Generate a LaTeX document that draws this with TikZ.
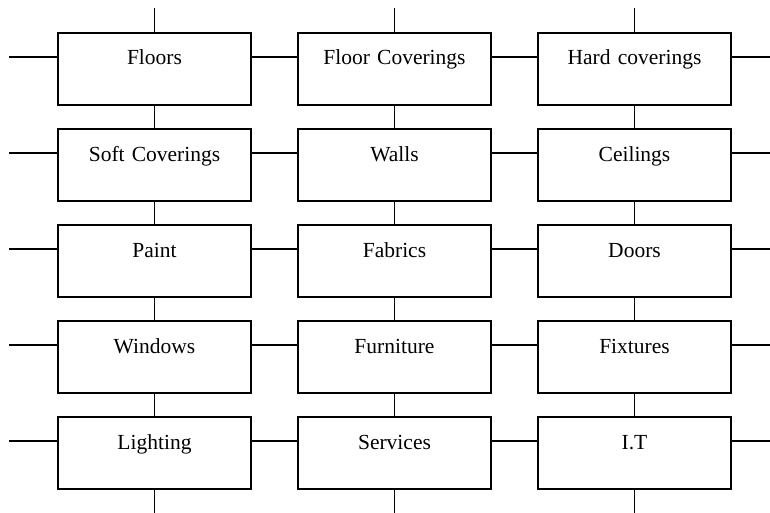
\documentclass[tikz,border=0pt]{standalone}
\usepackage{fontspec}
\setmainfont{Liberation Serif}
\begin{document}
\begin{tikzpicture}[x=1pt,y=-1pt,
    item/.style={draw, line width=1.8pt, rectangle, inner sep=0pt,
        text width=193pt, align=center, text height=32pt, text depth=40pt,
        font=\fontsize{21.5}{25}\selectfont},
    link/.style={line width=1.8pt}]
    \useasboundingbox (0,0) rectangle (770,513);

    % Boxes
    \node[item] (floors)    at (154.5,69)  {Floors};
    \node[item] (floorcov)  at (394.5,69)  {Floor Coverings};
    \node[item] (hardcov)   at (634.5,69)  {Hard coverings};
    \node[item] (softcov)   at (154.5,165) {Soft Coverings};
    \node[item] (walls)     at (394.5,165) {Walls};
    \node[item] (ceilings)  at (634.5,165) {Ceilings};
    \node[item] (paint)     at (154.5,261) {Paint};
    \node[item] (fabrics)   at (394.5,261) {Fabrics};
    \node[item] (doors)     at (634.5,261) {Doors};
    \node[item] (windows)   at (154.5,357) {Windows};
    \node[item] (furniture) at (394.5,357) {Furniture};
    \node[item] (fixtures)  at (634.5,357) {Fixtures};
    \node[item] (lighting)  at (154.5,453) {Lighting};
    \node[item] (services)  at (394.5,453) {Services};
    \node[item] (it)        at (634.5,453) {I.T};

    % Free ends
    \coordinate (t1) at (154.5,8);
    \coordinate (t2) at (394.5,8);
    \coordinate (t3) at (634.5,8);
    \coordinate (b1) at (154.5,513);
    \coordinate (b2) at (394.5,513);
    \coordinate (b3) at (634.5,513);
    \coordinate (l1) at (9,57);
    \coordinate (l2) at (9,153);
    \coordinate (l3) at (9,249);
    \coordinate (l4) at (9,345);
    \coordinate (l5) at (9,441);
    \coordinate (r1) at (770,57);
    \coordinate (r2) at (770,153);
    \coordinate (r3) at (770,249);
    \coordinate (r4) at (770,345);
    \coordinate (r5) at (770,441);

    % Vertical lines
    \draw[link] (t1) -- (floors.north);
    \draw[link] (floors.south) -- (softcov.north);
    \draw[link] (softcov.south) -- (paint.north);
    \draw[link] (paint.south) -- (windows.north);
    \draw[link] (windows.south) -- (lighting.north);
    \draw[link] (lighting.south) -- (b1);
    \draw[link] (t2) -- (floorcov.north);
    \draw[link] (floorcov.south) -- (walls.north);
    \draw[link] (walls.south) -- (fabrics.north);
    \draw[link] (fabrics.south) -- (furniture.north);
    \draw[link] (furniture.south) -- (services.north);
    \draw[link] (services.south) -- (b2);
    \draw[link] (t3) -- (hardcov.north);
    \draw[link] (hardcov.south) -- (ceilings.north);
    \draw[link] (ceilings.south) -- (doors.north);
    \draw[link] (doors.south) -- (fixtures.north);
    \draw[link] (fixtures.south) -- (it.north);
    \draw[link] (it.south) -- (b3);

    % Horizontal lines
    \draw[link] (l1) -- ([yshift=12pt]floors.west)
        ([yshift=12pt]floors.east) -- ([yshift=12pt]floorcov.west)
        ([yshift=12pt]floorcov.east) -- ([yshift=12pt]hardcov.west)
        ([yshift=12pt]hardcov.east) -- (r1);
    \draw[link] (l2) -- ([yshift=12pt]softcov.west)
        ([yshift=12pt]softcov.east) -- ([yshift=12pt]walls.west)
        ([yshift=12pt]walls.east) -- ([yshift=12pt]ceilings.west)
        ([yshift=12pt]ceilings.east) -- (r2);
    \draw[link] (l3) -- ([yshift=12pt]paint.west)
        ([yshift=12pt]paint.east) -- ([yshift=12pt]fabrics.west)
        ([yshift=12pt]fabrics.east) -- ([yshift=12pt]doors.west)
        ([yshift=12pt]doors.east) -- (r3);
    \draw[link] (l4) -- ([yshift=12pt]windows.west)
        ([yshift=12pt]windows.east) -- ([yshift=12pt]furniture.west)
        ([yshift=12pt]furniture.east) -- ([yshift=12pt]fixtures.west)
        ([yshift=12pt]fixtures.east) -- (r4);
    \draw[link] (l5) -- ([yshift=12pt]lighting.west)
        ([yshift=12pt]lighting.east) -- ([yshift=12pt]services.west)
        ([yshift=12pt]services.east) -- ([yshift=12pt]it.west)
        ([yshift=12pt]it.east) -- (r5);

\end{tikzpicture}
\end{document}
